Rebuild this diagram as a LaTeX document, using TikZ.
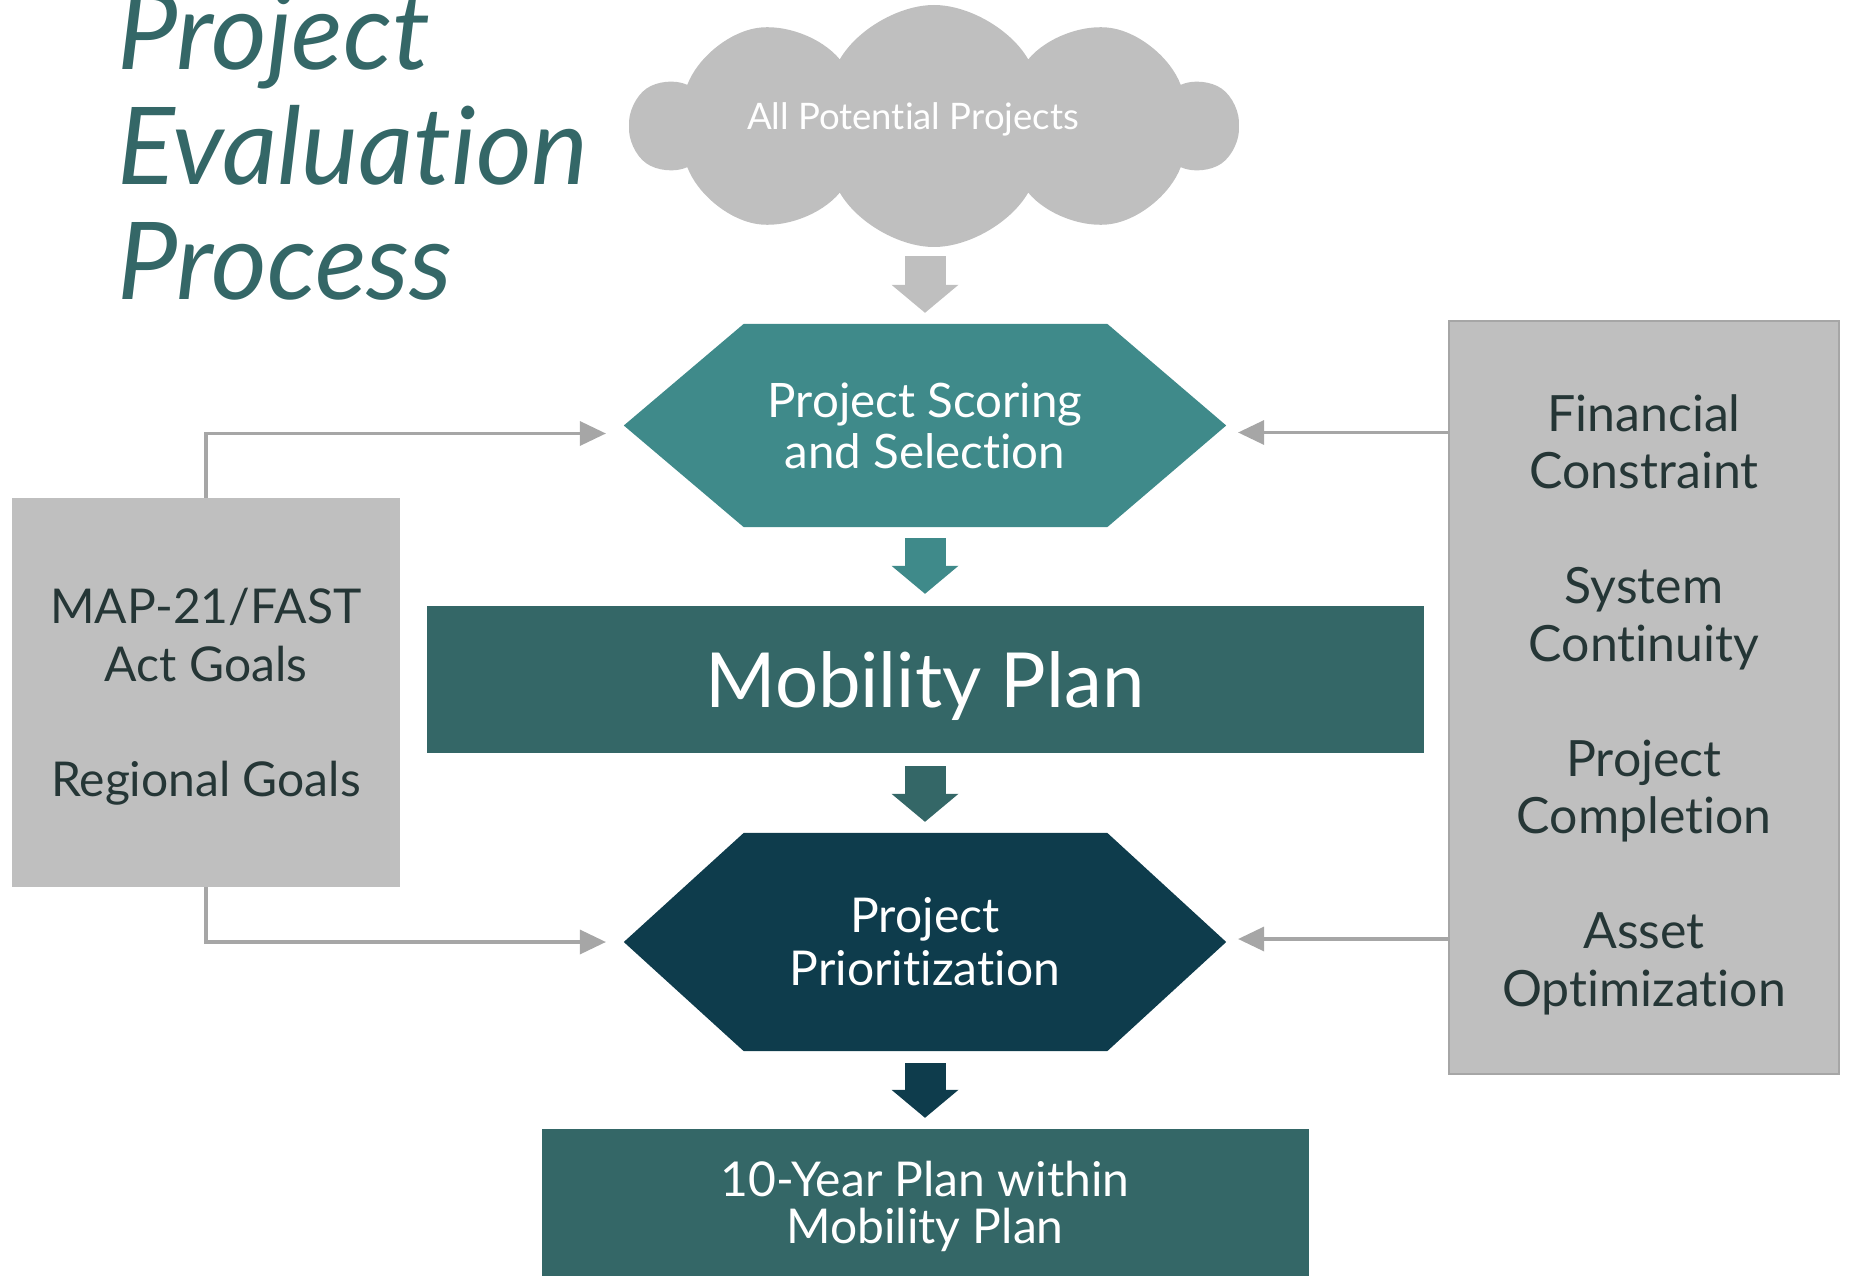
\documentclass[tikz,border=0pt]{standalone}
\usepackage{fontspec}
\setmainfont{Lato}[Ligatures={NoCommon}]
\usetikzlibrary{shapes.symbols,arrows.meta,backgrounds}
\definecolor{slate}{RGB}{52,103,103}
\definecolor{tealmid}{RGB}{63,138,138}
\definecolor{navy}{RGB}{14,60,76}
\definecolor{panel}{RGB}{191,191,191}
\definecolor{wire}{RGB}{166,166,166}
\definecolor{ink}{RGB}{37,54,54}
\tikzset{
  panelbox/.style={fill=panel, inner sep=0pt},
  paneltext/.style={text=ink, align=center, inner sep=0pt},
  hexbox/.style={minimum width=602pt, minimum height=203pt, inner sep=0pt, text=white, align=center},
  planbox/.style={fill=slate, text=white, align=center, inner sep=0pt},
  bigarrow/.style={line width=41pt, -{Triangle[width=67pt,length=28pt,line width=0pt]}},
  feedline/.style={wire, line width=3.5pt, -{Triangle[width=25pt,length=26pt,line width=0pt]}}
}
\begin{document}
\begin{tikzpicture}[x=1pt, y=-1pt]
\useasboundingbox (0,0) rectangle (1852,1276);

% title
\node[anchor=south west, inner sep=0pt, text=slate, align=left,
      font=\fontsize{107.5}{115}\itshape\selectfont] (title) at (117,301) {Project\\Evaluation\\Process};

% cloud of candidates
\node[cloud, cloud puffs=10, cloud puff arc=120, cloud ignores aspect, fill=panel,
      minimum width=605pt, minimum height=242pt, inner sep=0pt] (pool) at (934,126) {};
\node[anchor=base, inner sep=0pt, text=white, font=\fontsize{36.5}{42}\selectfont] (poolText) at (913,130) {All Potential Projects};

% main column
\node[hexbox, font=\fontsize{47.5}{51}\selectfont] (scoring) at (925,425.5) {Project Scoring\\and Selection};
\node[planbox, minimum width=997pt, minimum height=147pt, text depth=0pt,
      font=\fontsize{76}{80}\selectfont] (mobility) at (925,679.5) {Mobility Plan};
\node[hexbox, minimum height=218pt, font=\fontsize{48}{53}\selectfont] (priority) at (925,942) {Project\\Prioritization};
\node[planbox, minimum width=767pt, minimum height=154pt,
      font=\fontsize{48}{47}\selectfont] (tenyear) at (925,1206) {10-Year Plan within\\Mobility Plan};

% side panels
\node[panelbox, minimum width=388pt, minimum height=389pt] (goals) at (206,692.5) {};
\node[paneltext, font=\fontsize{48}{57.5}\selectfont] (goalsText) at ([yshift=-4pt]goals.center)
      {MAP-21/FAST\\Act Goals\\[57.5pt]Regional Goals};
\node[panelbox, draw=wire, line width=2.5pt, minimum width=390pt, minimum height=753pt] (limits) at (1644,697.5) {};
\node[paneltext, font=\fontsize{50}{57.5}\selectfont] (limitsText) at ([yshift=-7pt]limits.center)
      {Financial\\Constraint\\[57.5pt]System\\Continuity\\[57.5pt]Project\\Completion\\[57.5pt]Asset\\Optimization};

\begin{scope}[on background layer]
  \fill[tealmid] (scoring.west) -- ([xshift=120pt]scoring.north west) -- ([xshift=-119pt]scoring.north east)
    -- (scoring.east) -- ([xshift=-119pt]scoring.south east) -- ([xshift=120pt]scoring.south west) -- cycle;
  \fill[navy] (priority.west) -- ([xshift=120pt]priority.north west) -- ([xshift=-119pt]priority.north east)
    -- (priority.east) -- ([xshift=-119pt]priority.south east) -- ([xshift=120pt]priority.south west) -- cycle;
\end{scope}

% block arrows
\coordinate (poolOut) at ([yshift=-130pt]pool.center -| scoring.north);
\draw[bigarrow, panel] (poolOut) -- ([yshift=11pt]scoring.north);
\draw[bigarrow, tealmid] ([yshift=-11pt]scoring.south) -- ([yshift=12pt]mobility.north);
\draw[bigarrow, slate] ([yshift=-13pt]mobility.south) -- ([yshift=11pt]priority.north);
\draw[bigarrow, navy] ([yshift=-12pt]priority.south) -- ([yshift=11pt]tenyear.north);

% inputs from the panels
\coordinate (scoringInL) at ([shift={(-18pt,-8pt)}]scoring.west);
\coordinate (scoringInR) at ([shift={(12pt,-7pt)}]scoring.east);
\coordinate (priorityInL) at ([xshift=-18pt]priority.west);
\coordinate (priorityInR) at ([xshift=12pt,yshift=3pt]priority.east);
\draw[feedline] (goals.north) |- (scoringInL);
\draw[feedline] (goals.south) |- (priorityInL);
\draw[feedline] (limits.west |- scoringInR) -- (scoringInR);
\draw[feedline] (limits.west |- priorityInR) -- (priorityInR);
\end{tikzpicture}
\end{document}
